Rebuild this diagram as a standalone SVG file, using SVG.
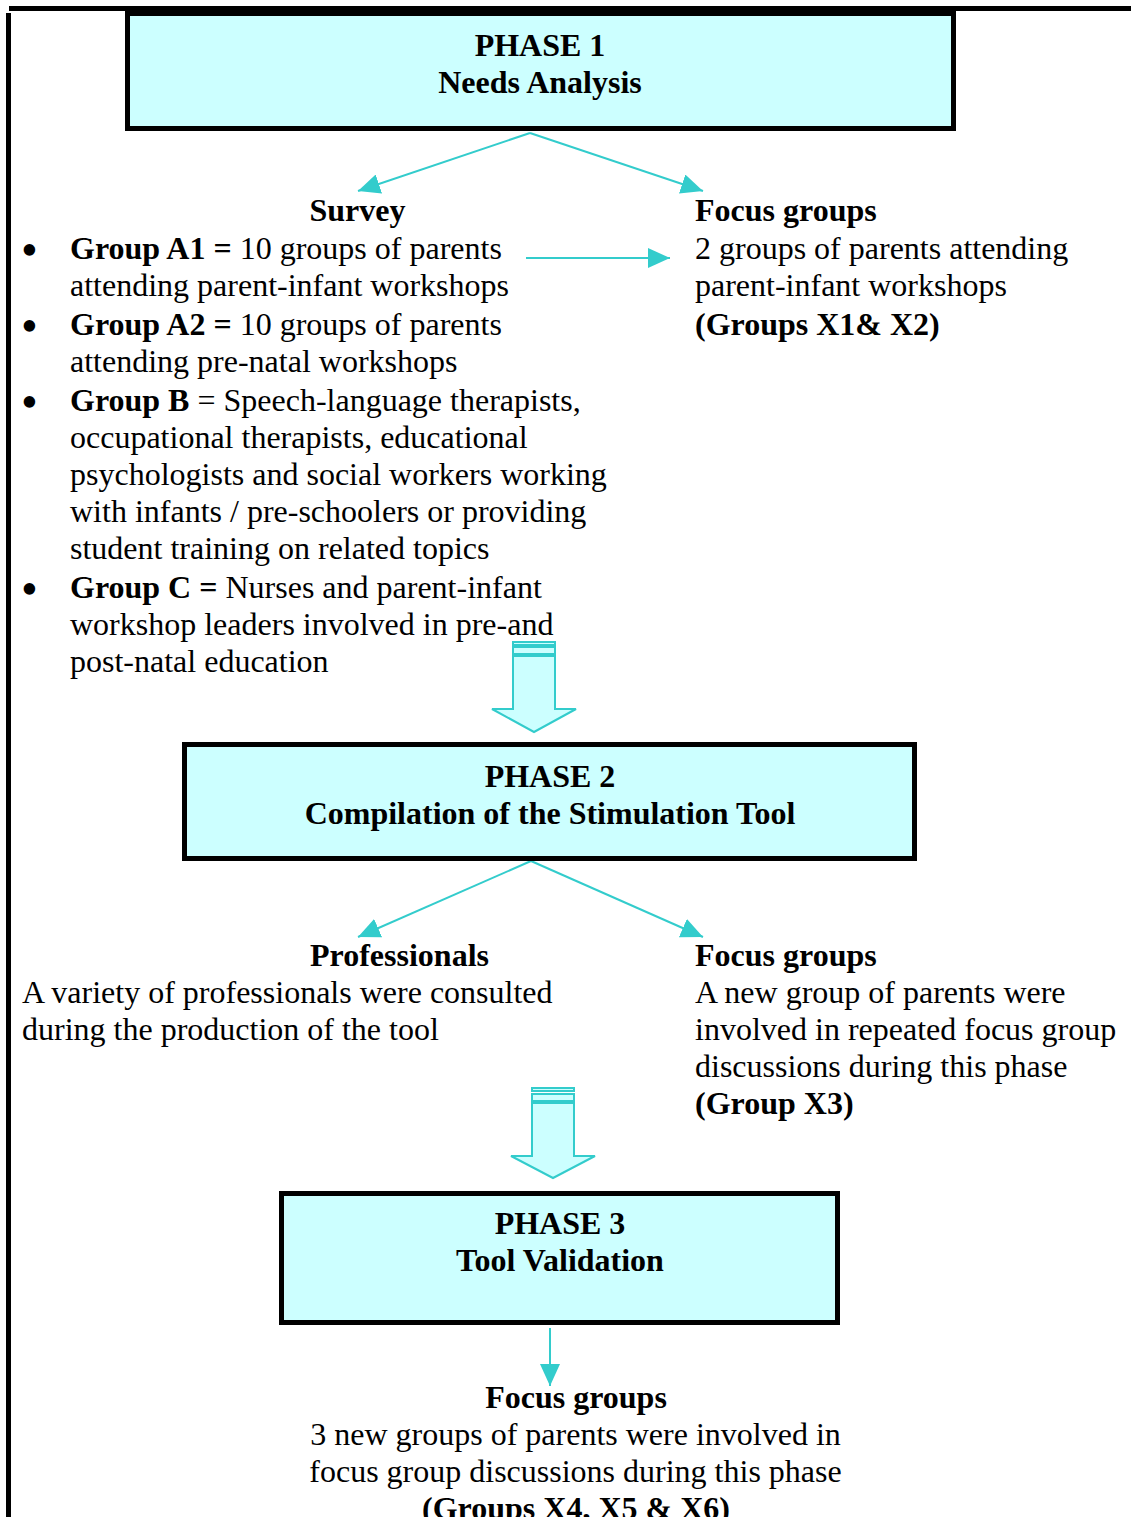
<svg xmlns="http://www.w3.org/2000/svg" width="1131" height="1517" viewBox="0 0 1131 1517">
<style>
text{font-family:"Liberation Serif","Times New Roman",serif;font-size:32px;fill:#000}
.b{font-weight:bold}
.c{text-anchor:middle}
.bu{font-size:48px}
.box{fill:#CCFFFF;stroke:#000;stroke-width:5}
.ln{stroke:#33CCCC;stroke-width:2;fill:none;marker-end:url(#ah)}
.blk{fill:#CCFFFF;stroke:#33CCCC;stroke-width:2}
</style>
<defs>
<marker id="ah" markerUnits="userSpaceOnUse" markerWidth="22" markerHeight="20" refX="22" refY="10" orient="auto">
<path d="M0,0 L22,10 L0,20 z" fill="#33CCCC"/>
</marker>
</defs>
<rect width="1131" height="1517" fill="#fff"/>
<g id="frame">
<rect x="9" y="6" width="1122" height="5" fill="#000"/>
<rect x="6" y="13" width="5" height="1504" fill="#000"/>
</g>
<g id="connectors">
<line class="ln" x1="530" y1="133" x2="358" y2="191"/>
<line class="ln" x1="530" y1="133" x2="703" y2="191"/>
<line class="ln" x1="526" y1="258" x2="670" y2="258"/>
<line class="ln" x1="531" y1="861" x2="358" y2="937"/>
<line class="ln" x1="531" y1="861" x2="703" y2="937"/>
<line class="ln" x1="550" y1="1328" x2="550" y2="1386"/>
<g id="block1">
<rect class="blk" x="513" y="642" width="42" height="3"/>
<rect class="blk" x="513" y="647" width="42" height="7"/>
<path class="blk" d="M513,656 L555,656 L555,709 L576,709 L534,732 L492,709 L513,709 Z"/>
</g>
<g id="block2">
<rect class="blk" x="532" y="1088" width="42" height="3"/>
<rect class="blk" x="532" y="1094" width="42" height="7"/>
<path class="blk" d="M532,1103 L574,1103 L574,1156 L595,1156 L553,1178 L511,1156 L532,1156 Z"/>
</g>
</g>
<g id="phase1">
<rect class="box" x="127.5" y="13.5" width="826" height="115"/>
<text class="b c" x="540" y="56">PHASE 1</text>
<text class="b c" x="540" y="93">Needs Analysis</text>
</g>
<g id="survey">
<text class="b c" x="357.5" y="221">Survey</text>
<text class="bu" x="21" y="266">•</text>
<text x="70" y="259"><tspan class="b">Group A1 =</tspan> 10 groups of parents</text>
<text x="70" y="296">attending parent-infant workshops</text>
<text class="bu" x="21" y="342">•</text>
<text x="70" y="335"><tspan class="b">Group A2 =</tspan> 10 groups of parents</text>
<text x="70" y="372">attending pre-natal workshops</text>
<text class="bu" x="21" y="418">•</text>
<text x="70" y="411"><tspan class="b">Group B</tspan> = Speech-language therapists,</text>
<text x="70" y="448">occupational therapists, educational</text>
<text x="70" y="485">psychologists and social workers working</text>
<text x="70" y="522">with infants / pre-schoolers or providing</text>
<text x="70" y="559">student training on related topics</text>
<text class="bu" x="21" y="605">•</text>
<text x="70" y="598"><tspan class="b">Group C =</tspan> Nurses and parent-infant</text>
<text x="70" y="635">workshop leaders involved in pre-and</text>
<text x="70" y="672">post-natal education</text>
</g>
<g id="focus1">
<text class="b" x="695" y="221">Focus groups</text>
<text x="695" y="259">2 groups of parents attending</text>
<text x="695" y="296">parent-infant workshops</text>
<text class="b" x="695" y="335">(Groups X1&amp; X2)</text>
</g>
<g id="phase2">
<rect class="box" x="184.5" y="744.5" width="730" height="114"/>
<text class="b c" x="550" y="787">PHASE 2</text>
<text class="b c" x="550" y="824">Compilation of the Stimulation Tool</text>
</g>
<g id="professionals">
<text class="b c" x="399.5" y="966">Professionals</text>
<text x="22" y="1003">A variety of professionals were consulted</text>
<text x="22" y="1040">during the production of the tool</text>
</g>
<g id="focus2">
<text class="b" x="695" y="966">Focus groups</text>
<text x="695" y="1003">A new group of parents were</text>
<text x="695" y="1040">involved in repeated focus group</text>
<text x="695" y="1077">discussions during this phase</text>
<text class="b" x="695" y="1114">(Group X3)</text>
</g>
<g id="phase3">
<rect class="box" x="281.5" y="1193.5" width="556" height="129"/>
<text class="b c" x="560" y="1234">PHASE 3</text>
<text class="b c" x="560" y="1271">Tool Validation</text>
</g>
<g id="focus3">
<text class="b c" x="576" y="1408">Focus groups</text>
<text class="c" x="575.5" y="1445">3 new groups of parents were involved in</text>
<text class="c" x="575.5" y="1482">focus group discussions during this phase</text>
<text class="b c" x="576" y="1519">(Groups X4, X5 &amp; X6)</text>
</g>
</svg>
